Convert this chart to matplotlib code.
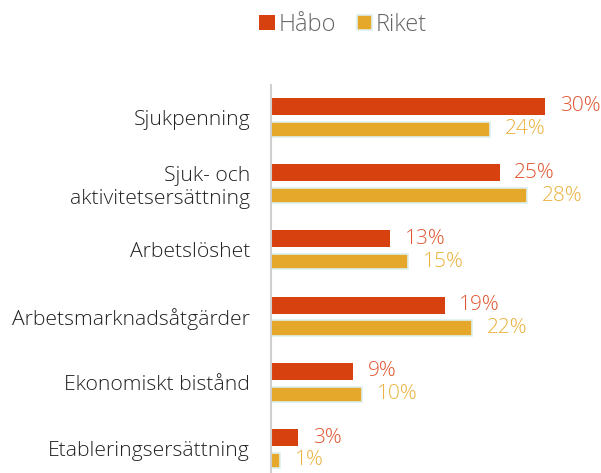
import matplotlib.pyplot as plt
import numpy as np

categories = ['Sjukpenning', 'Sjuk- och\naktivitetsersättning', 'Arbetslöshet',
              'Arbetsmarknadsåtgärder', 'Ekonomiskt bistånd', 'Etableringsersättning']
habo = [30, 25, 13, 19, 9, 3]
riket = [24, 28, 15, 22, 10, 1]

c_habo = '#D7400F'
c_riket = '#E6A82A'
c_habo_txt = '#E05530'
c_riket_txt = '#EAB23E'

plt.rcParams['font.family'] = ['Open Sans', 'DejaVu Sans']
plt.rcParams['font.weight'] = 'light'

fig = plt.figure(figsize=(6.01, 4.73), dpi=100)
ax = fig.add_axes([271 / 601, 0, 1 - 271 / 601, 1 - 85 / 473])

y = np.arange(len(categories))
ax.barh(y - 0.166, habo, height=0.257, color=c_habo, label='Håbo')
ax.barh(y + 0.18, riket, height=0.227, color=c_riket, edgecolor='#DDEFEF',
        linewidth=1.2, label='Riket')

for i, (h, r) in enumerate(zip(habo, riket)):
    ax.text(h + 1.6, i - 0.166, f'{h}%', va='center', ha='left',
            fontsize=15, color=c_habo_txt)
    ax.text(r + 1.6, i + 0.18, f'{r}%', va='center', ha='left',
            fontsize=15, color=c_riket_txt)

ax.set_xlim(0, 36.1)
ax.set_ylim(len(categories) - 1 + 0.37, -0.49)
ax.set_yticks(y)
ax.set_yticklabels(categories, fontsize=15.2, color='#222222')
ax.tick_params(axis='y', length=0, pad=15)
ax.set_xticks([])
for s in ['top', 'right', 'bottom']:
    ax.spines[s].set_visible(False)
ax.spines['left'].set_color('#D0D0D0')
ax.spines['left'].set_linewidth(1.5)

fig.legend(loc='upper center', bbox_to_anchor=(0.571, 1.018), ncol=2, frameon=False,
           fontsize=17, handlelength=0.65, handleheight=0.65, handletextpad=0.15,
           columnspacing=0.9, labelcolor='#666666')

fig.savefig('out.png', dpi=100)
